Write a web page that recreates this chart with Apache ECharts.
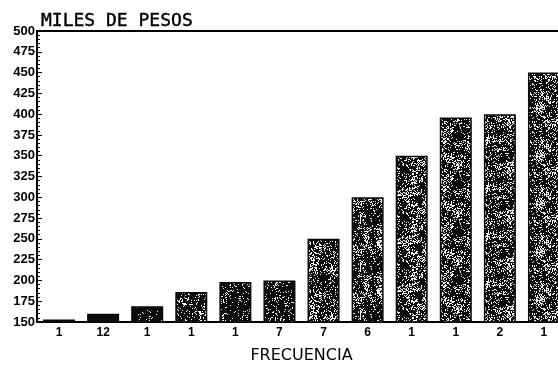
<!DOCTYPE html>
<html>
<head>
<meta charset="utf-8">
<script src="https://cdn.jsdelivr.net/npm/echarts@6/dist/echarts.min.js"></script>
<style>
  html, body { margin: 0; padding: 0; background: #fff; }
  #chart { width: 558px; height: 365px; }
</style>
</head>
<body>
<div id="chart"></div>
<script>
// Frequency labels under each bar
const frecuencias = ['1', '12', '1', '1', '1', '7', '7', '6', '1', '1', '2', '1'];
// Amount per bar, in thousands of pesos
const milesDePesos = [153, 160, 169, 186, 198, 200, 250, 300, 350, 396, 400, 450];
// Y axis range
const yMin = 150;
const yMax = 500;
const yStep = 25;

// Deterministic hash used for the printed-screen speckle texture
function hash(x, y, s) {
  const v = Math.sin(x * 127.1 + y * 311.7 + s * 74.7) * 43758.5453;
  return v - Math.floor(v);
}

// Builds a repeating speckle tile: dark ink with clusters of white grain
function speckleTile(density, seed) {
  const size = 48;
  const c = document.createElement('canvas');
  c.width = size; c.height = size;
  const ctx = c.getContext('2d');
  const img = ctx.createImageData(size, size);
  const cell = 6;
  const n = size / cell;
  for (let y = 0; y < size; y++) {
    for (let x = 0; x < size; x++) {
      const gx = x / cell, gy = y / cell;
      const x0 = Math.floor(gx), y0 = Math.floor(gy);
      const fx = gx - x0, fy = gy - y0;
      const a = hash(x0 % n, y0 % n, seed), b = hash((x0 + 1) % n, y0 % n, seed);
      const c0 = hash(x0 % n, (y0 + 1) % n, seed), d = hash((x0 + 1) % n, (y0 + 1) % n, seed);
      const coarse = (a * (1 - fx) + b * fx) * (1 - fy) + (c0 * (1 - fx) + d * fx) * fy;
      const fine = hash(x, y, seed + 3);
      const white = fine < density * (0.2 + 1.6 * coarse * coarse);
      const k = (y * size + x) * 4;
      const v = white ? 245 : 12;
      img.data[k] = v; img.data[k + 1] = v; img.data[k + 2] = v; img.data[k + 3] = 255;
    }
  }
  ctx.putImageData(img, 0, 0);
  return c;
}

const chart = echarts.init(document.getElementById('chart'));

// Short bars print almost solid; taller bars carry more grain
const barItems = milesDePesos.map((v, i) => {
  const density = i < 2 ? 0 : i < 3 ? 0.04 : i < 6 ? 0.22 : 0.38;
  const fill = density === 0 ? '#0c0c0c'
    : { image: speckleTile(density, i + 1), repeat: 'repeat' };
  return {
    value: v,
    itemStyle: { color: fill, borderColor: '#080808', borderWidth: 1.5 }
  };
});

chart.setOption({
  animation: false,
  backgroundColor: '#fff',
  title: {
    text: 'MILES DE PESOS',
    left: 36,
    top: 7,
    textStyle: {
      fontFamily: 'DejaVu Sans Mono',
      fontSize: 18,
      fontWeight: 'normal',
      color: '#000',
      textBorderColor: '#000',
      textBorderWidth: 0.4
    }
  },
  grid: { left: 37, right: -8, top: 31, bottom: 43, outerBoundsMode: 'none', containLabel: false },
  xAxis: [{
    type: 'category',
    data: frecuencias,
    name: 'FRECUENCIA',
    nameLocation: 'middle',
    nameGap: 26,
    nameTextStyle: { fontFamily: 'DejaVu Sans', fontSize: 16, color: '#000' },
    axisLine: { lineStyle: { color: '#000', width: 2 } },
    axisTick: { show: false },
    axisLabel: { fontFamily: 'Liberation Sans', fontWeight: 'bold', fontSize: 12, color: '#000', margin: 5 }
  }, {
    type: 'category',
    position: 'top',
    data: frecuencias,
    axisLine: { lineStyle: { color: '#000', width: 2 } },
    axisTick: { show: false },
    axisLabel: { show: false }
  }],
  yAxis: {
    type: 'value',
    min: yMin,
    max: yMax,
    interval: yStep,
    axisLine: { show: true, lineStyle: { color: '#000', width: 2 } },
    axisTick: { show: true, inside: true, length: 5, lineStyle: { color: '#000' } },
    minorTick: { show: true, splitNumber: 5, length: 3, lineStyle: { color: '#000' } },
    splitLine: { show: false },
    axisLabel: {
      fontFamily: 'Liberation Sans',
      fontWeight: 'bold',
      fontSize: 13,
      color: '#000',
      margin: 2
    }
  },
  series: [{
    type: 'bar',
    data: barItems,
    barWidth: 32,
    xAxisIndex: 0
  }]
});
</script>
</body>
</html>
